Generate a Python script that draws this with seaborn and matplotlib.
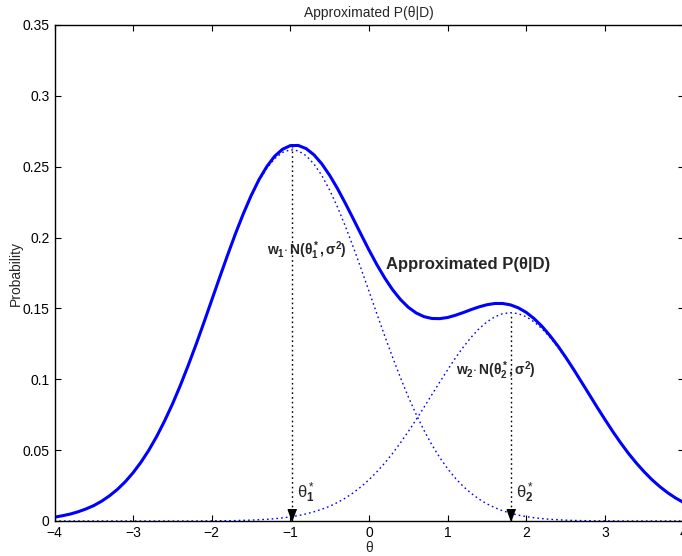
import matplotlib
matplotlib.use("Agg")
import matplotlib.pyplot as plt
import numpy as np
import pandas as pd
import seaborn as sns
from matplotlib.ticker import FormatStrFormatter

sns.set_style("ticks")
plt.rcParams['font.family'] = ['Liberation Sans', 'DejaVu Sans']
plt.rcParams['mathtext.fontset'] = 'custom'
plt.rcParams['mathtext.rm'] = 'Liberation Sans'
plt.rcParams['mathtext.it'] = 'Liberation Sans:italic'
plt.rcParams['mathtext.bf'] = 'Liberation Sans:bold'

# values, theta grid every 0.1
theta = [-4.0, -3.9, -3.8, -3.7, -3.6, -3.5, -3.4, -3.3, -3.2, -3.1,
         -3.0, -2.9, -2.8, -2.7, -2.6, -2.5, -2.4, -2.3, -2.2, -2.1,
         -2.0, -1.9, -1.8, -1.7, -1.6, -1.5, -1.4, -1.3, -1.2, -1.1,
         -1.0, -0.9, -0.8, -0.7, -0.6, -0.5, -0.4, -0.3, -0.2, -0.1,
         0.0, 0.1, 0.2, 0.3, 0.4, 0.5, 0.6, 0.7, 0.8, 0.9,
         1.0, 1.1, 1.2, 1.3, 1.4, 1.5, 1.6, 1.7, 1.8, 1.9,
         2.0, 2.1, 2.2, 2.3, 2.4, 2.5, 2.6, 2.7, 2.8, 2.9,
         3.0, 3.1, 3.2, 3.3, 3.4, 3.5, 3.6, 3.7, 3.8, 3.9, 4.0]

# w1 * N(theta1*, sigma^2)
comp1 = [0.0027, 0.0037, 0.0049, 0.0065, 0.0085, 0.0109, 0.0140, 0.0178, 0.0223, 0.0277,
         0.0341, 0.0415, 0.0500, 0.0597, 0.0706, 0.0825, 0.0956, 0.1096, 0.1245, 0.1399,
         0.1557, 0.1716, 0.1872, 0.2022, 0.2162, 0.2289, 0.2399, 0.2489, 0.2557, 0.2601,
         0.2620, 0.2612, 0.2578, 0.2519, 0.2438, 0.2335, 0.2214, 0.2079, 0.1933, 0.1779,
         0.1621, 0.1462, 0.1306, 0.1155, 0.1011, 0.0876, 0.0752, 0.0639, 0.0537, 0.0448,
         0.0369, 0.0301, 0.0243, 0.0195, 0.0154, 0.0121, 0.0094, 0.0072, 0.0055, 0.0041,
         0.0031, 0.0023, 0.0017, 0.0012, 0.0009, 0.0006, 0.0004, 0.0003, 0.0002, 0.0001,
         0.0001, 0.0001, 0.0, 0.0, 0.0, 0.0, 0.0, 0.0, 0.0, 0.0, 0.0]

# w2 * N(theta2*, sigma^2)
comp2 = [0.0, 0.0, 0.0, 0.0, 0.0, 0.0, 0.0, 0.0, 0.0, 0.0,
         0.0, 0.0, 0.0, 0.0, 0.0, 0.0, 0.0, 0.0, 0.0, 0.0001,
         0.0001, 0.0002, 0.0002, 0.0003, 0.0005, 0.0006, 0.0009, 0.0012, 0.0016, 0.0022,
         0.0029, 0.0038, 0.0050, 0.0065, 0.0083, 0.0104, 0.0131, 0.0162, 0.0199, 0.0242,
         0.0291, 0.0347, 0.0409, 0.0477, 0.0552, 0.0631, 0.0716, 0.0803, 0.0892, 0.0980,
         0.1067, 0.1151, 0.1228, 0.1297, 0.1357, 0.1405, 0.1441, 0.1463, 0.1470, 0.1463,
         0.1441, 0.1405, 0.1357, 0.1297, 0.1228, 0.1151, 0.1067, 0.0980, 0.0892, 0.0803,
         0.0716, 0.0631, 0.0552, 0.0477, 0.0409, 0.0347, 0.0291, 0.0242, 0.0199, 0.0162, 0.0131]

# approximated P(theta|D)
approx = [0.0027, 0.0037, 0.0049, 0.0065, 0.0085, 0.0109, 0.0140, 0.0178, 0.0223, 0.0277,
          0.0341, 0.0415, 0.0500, 0.0597, 0.0706, 0.0825, 0.0956, 0.1097, 0.1245, 0.1400,
          0.1559, 0.1718, 0.1874, 0.2025, 0.2166, 0.2295, 0.2408, 0.2501, 0.2574, 0.2623,
          0.2649, 0.2650, 0.2628, 0.2584, 0.2520, 0.2439, 0.2345, 0.2241, 0.2132, 0.2021,
          0.1912, 0.1809, 0.1715, 0.1632, 0.1563, 0.1508, 0.1468, 0.1442, 0.1429, 0.1428,
          0.1436, 0.1452, 0.1471, 0.1492, 0.1511, 0.1526, 0.1535, 0.1535, 0.1525, 0.1504,
          0.1472, 0.1428, 0.1374, 0.1309, 0.1237, 0.1157, 0.1072, 0.0983, 0.0894, 0.0804,
          0.0717, 0.0632, 0.0552, 0.0477, 0.0409, 0.0347, 0.0291, 0.0242, 0.0199, 0.0162, 0.0131]

theta_star = [-0.98, 1.8]
peak_heights = [0.264, 0.147]

df = pd.DataFrame({'theta': theta, 'comp1': comp1, 'comp2': comp2, 'approx': approx})

fig = plt.figure(figsize=(6.82, 5.56), dpi=100)
ax = fig.add_axes([54.5 / 682, 1 - 521 / 556, 629 / 682, 496 / 556])

blue = '#0000ff'
dots = (0, (1.2, 2.2))
sns.lineplot(data=df, x='theta', y='comp1', ax=ax, color=blue, linewidth=1.0, linestyle=dots)
sns.lineplot(data=df, x='theta', y='comp2', ax=ax, color=blue, linewidth=1.0, linestyle=dots)
sns.lineplot(data=df, x='theta', y='approx', ax=ax, color=blue, linewidth=2.2)

# vertical guides and markers at the component means
ax.vlines(theta_star, 0, peak_heights, colors='black', linewidth=1.0, linestyles=[dots])
tri = [(0, 0), (-0.36, 1.0), (0.36, 1.0)]
ax.plot(theta_star, [0, 0], linestyle='none', marker=tri, markersize=17,
        color='black', clip_on=False, zorder=5)

ax.text(-1.30, 0.1875, r'$\mathbf{w_1}{\cdot}\,\mathbf{N(\theta^*_1,\sigma^2)}$',
        fontsize=10, va='baseline', ha='left')
ax.text(0.22, 0.178, 'Approximated P(θ|D)', fontsize=12, fontweight='bold',
        va='baseline', ha='left')
ax.text(1.11, 0.103, r'$\mathbf{w_2}{\cdot}\,\mathbf{N(\theta^*_2,\sigma^2)}$',
        fontsize=10, va='baseline', ha='left')
ax.text(-0.92, 0.016, r'$\mathrm{\theta}^*_\mathbf{1}$', fontsize=12, va='baseline', ha='left')
ax.text(1.87, 0.016, r'$\mathrm{\theta}^*_\mathbf{2}$', fontsize=12, va='baseline', ha='left')

ax.set_xlim(-4, 4)
ax.set_ylim(0, 0.35)
ax.set_xticks([-4, -3, -2, -1, 0, 1, 2, 3, 4])
ax.set_yticks([0, 0.05, 0.1, 0.15, 0.2, 0.25, 0.3, 0.35])
ax.yaxis.set_major_formatter(FormatStrFormatter('%g'))
ax.tick_params(direction='in', length=4.5, width=0.8, top=True, right=True,
               labelsize=10, colors='black')
for s in ax.spines.values():
    s.set_visible(True)
    s.set_linewidth(1.0)
    s.set_color('black')

ax.set_xlabel('θ', fontsize=10, labelpad=1)
ax.set_ylabel('Probability', fontsize=10, labelpad=0)
ax.set_title('Approximated P(θ|D)', fontsize=10, pad=6)

fig.savefig('out.png', dpi=100)
